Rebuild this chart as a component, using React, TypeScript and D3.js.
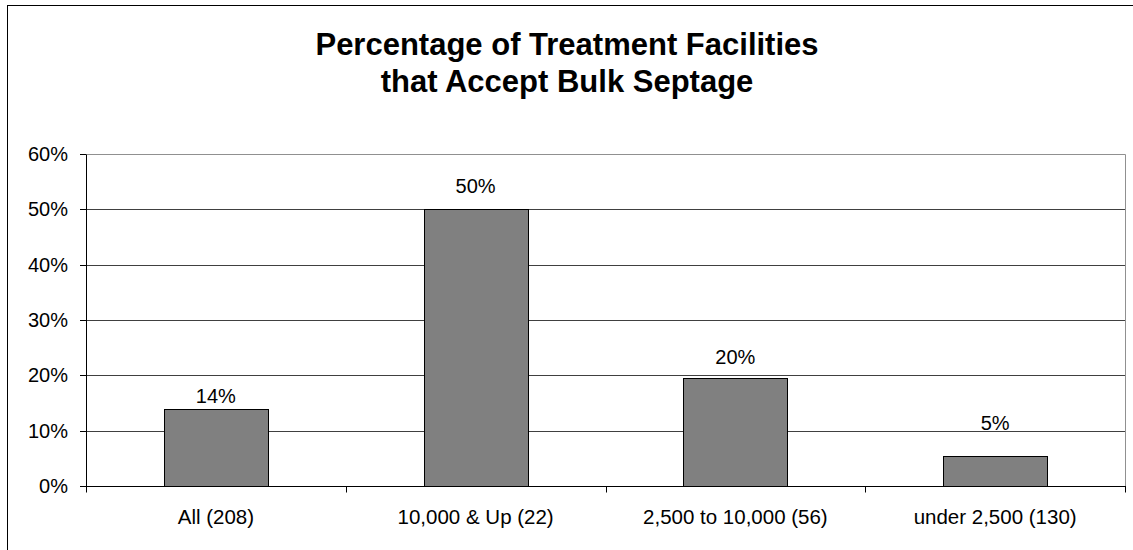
import React from "react";
import * as d3 from "d3";

const categories = ["All (208)", "10,000 & Up (22)", "2,500 to 10,000 (56)", "under 2,500 (130)"];
const values = [13.9, 50, 19.6, 5.4];
const valueLabels = ["14%", "50%", "20%", "5%"];
const yTicks = [0, 10, 20, 30, 40, 50, 60];
const titleLines = ["Percentage of Treatment Facilities", "that Accept Bulk Septage"];

// layout: vertical gap (px) between bar top and label baseline
const labelGap = [6, 16, 14, 26];

const W = 1133;
const H = 550;
const FONT = "'Liberation Sans', Arial, sans-serif";

export default function App() {
  const left = 86, right = 1125, top = 154, bottom = 486;
  const x = d3.scaleBand<string>().domain(categories).range([left, right]).paddingInner(0.6).paddingOuter(0.3);
  const xc = d3.scaleBand<string>().domain(categories).range([left, right]);
  const y = d3.scaleLinear().domain([0, 60]).range([bottom, top]);
  const cr = (v: number) => Math.round(v) + 0.5;

  return (
    <svg width={W} height={H} style={{ position: "absolute", left: 0, top: 0, background: "#fff" }} fontFamily={FONT}>
      <rect x={7.5} y={5.5} width={1300} height={700} fill="#fff" stroke="#000" strokeWidth={1} />
      {titleLines.map((t, i) => (
        <text key={i} x={567} y={55 + i * 37} textAnchor="middle" fontSize={31} fontWeight="bold" fill="#000">
          {t}
        </text>
      ))}
      {/* gridlines */}
      {yTicks.filter((t) => t > 0 && t < 60).map((t) => (
        <line key={t} x1={left} x2={right} y1={cr(y(t))} y2={cr(y(t))} stroke="#404040" strokeWidth={1} />
      ))}
      {/* plot border top/right */}
      <line x1={left} x2={cr(right)} y1={cr(y(60))} y2={cr(y(60))} stroke="#909090" strokeWidth={1} />
      <line x1={cr(right)} x2={cr(right)} y1={cr(y(60))} y2={cr(bottom)} stroke="#909090" strokeWidth={1} />
      {/* bars */}
      {categories.map((c, i) => {
        const x0 = Math.round(x(c)!);
        const x1 = Math.round(x(c)! + x.bandwidth());
        const yt = Math.round(y(values[i]));
        return (
          <rect key={c} x={x0 + 0.5} y={yt + 0.5} width={x1 - x0} height={Math.round(bottom) - yt} fill="#808080" stroke="#000" strokeWidth={1} />
        );
      })}
      {/* value labels */}
      {categories.map((c, i) => (
        <text key={c} x={x(c)! + x.bandwidth() / 2} y={y(values[i]) - labelGap[i]} textAnchor="middle" fontSize={20} fill="#000">
          {valueLabels[i]}
        </text>
      ))}
      {/* y axis */}
      <line x1={cr(left)} x2={cr(left)} y1={cr(top)} y2={cr(bottom) + 1} stroke="#000" strokeWidth={1} />
      {yTicks.map((t) => (
        <g key={t}>
          <line x1={left - 6} x2={left} y1={cr(y(t))} y2={cr(y(t))} stroke="#000" strokeWidth={1} />
          <text x={68} y={y(t)} dy="0.35em" textAnchor="end" fontSize={20} fill="#000">
            {d3.format("d")(t) + "%"}
          </text>
        </g>
      ))}
      {/* x axis */}
      <line x1={left} x2={cr(right) + 0.5} y1={cr(bottom)} y2={cr(bottom)} stroke="#000" strokeWidth={1} />
      {[...categories.map((c) => xc(c)!), right].map((px, i) => (
        <line key={i} x1={cr(px)} x2={cr(px)} y1={cr(bottom)} y2={cr(bottom) + 6} stroke="#000" strokeWidth={1} />
      ))}
      {categories.map((c) => (
        <text key={c} x={xc(c)! + xc.bandwidth() / 2} y={524} textAnchor="middle" fontSize={20.5} fill="#000">
          {c}
        </text>
      ))}
    </svg>
  );
}
